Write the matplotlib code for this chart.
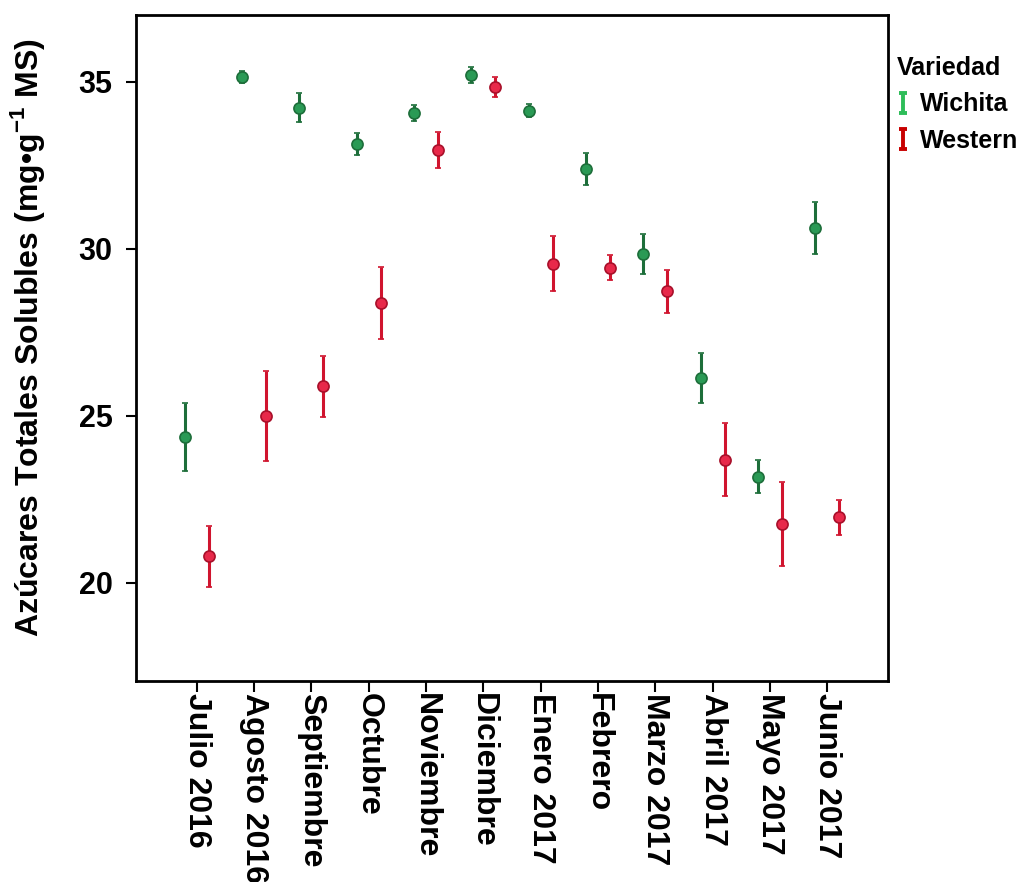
import matplotlib
matplotlib.use("Agg")
import matplotlib.pyplot as plt
from matplotlib.lines import Line2D
from matplotlib.path import Path
import numpy as np

plt.rcParams['font.family'] = ['Liberation Sans', 'DejaVu Sans']
plt.rcParams['font.weight'] = 'bold'
plt.rcParams['mathtext.fontset'] = 'custom'
plt.rcParams['mathtext.rm'] = 'Liberation Sans:bold'
plt.rcParams['mathtext.bf'] = 'Liberation Sans:bold'

# Meses del muestreo
meses = ["Julio 2016", "Agosto 2016", "Septiembre", "Octubre", "Noviembre",
         "Diciembre", "Enero 2017", "Febrero", "Marzo 2017", "Abril 2017",
         "Mayo 2017", "Junio 2017"]

# Azúcares totales solubles (media y error)
wichita = [24.37, 35.15, 34.22, 33.14, 34.07, 35.20, 34.13, 32.40, 29.83, 26.13, 23.17, 30.63]
wichita_err = [1.02, 0.18, 0.43, 0.34, 0.24, 0.24, 0.20, 0.48, 0.60, 0.74, 0.50, 0.78]
western = [20.78, 25.00, 25.88, 28.38, 32.96, 34.85, 29.55, 29.43, 28.72, 23.68, 21.75, 21.95]
western_err = [0.90, 1.35, 0.92, 1.08, 0.55, 0.30, 0.83, 0.38, 0.65, 1.10, 1.26, 0.53]

x = np.arange(len(meses))
dx = 0.21

fig = plt.figure(figsize=(10.26, 8.82), dpi=100)
ax = fig.add_axes([0.1326, 0.2279, 0.7329, 0.7551])

ax.errorbar(x - dx, wichita, yerr=wichita_err, fmt='o', color='#1d6e3a',
            ecolor='#1d6e3a', elinewidth=2.2, capsize=2.5, capthick=2.2,
            markersize=8, markerfacecolor='#2a9a55', markeredgecolor='#1d6e3a',
            markeredgewidth=1.2, zorder=3)
ax.errorbar(x + dx, western, yerr=western_err, fmt='o', color='#d0142e',
            ecolor='#d0142e', elinewidth=2.2, capsize=2.5, capthick=2.2,
            markersize=8, markerfacecolor='#e8294a', markeredgecolor='#a8102a',
            markeredgewidth=1.2, zorder=3)

ax.set_xlim(-1.06, 12.06)
ax.set_ylim(17.05, 37.0)
ax.set_yticks([20, 25, 30, 35])
ax.set_xticks(x)
ax.set_xticklabels(meses, rotation=270, ha='center', va='top', fontsize=23, fontweight='bold')
ax.tick_params(axis='y', labelsize=22, length=7, width=1.5, pad=10)
ax.tick_params(axis='x', length=8, width=1.5, pad=1)
for s in ax.spines.values():
    s.set_linewidth(2)
ax.set_ylabel("Azúcares Totales Solubles (mg•g$^{-1}$ MS)", fontsize=23,
              fontweight='bold')
ax.yaxis.set_label_coords(-0.118, 0.515)

# Leyenda con símbolo de barra de error
barra = Path([(-0.45, 1), (0.45, 1), (0, 1), (0, -1), (-0.45, -1), (0.45, -1)],
             [Path.MOVETO, Path.LINETO, Path.MOVETO, Path.LINETO, Path.MOVETO, Path.LINETO])
h1 = Line2D([], [], linestyle='none', marker=barra, markersize=14,
            markeredgecolor='#2ebd59', markerfacecolor='none', markeredgewidth=2.8)
h2 = Line2D([], [], linestyle='none', marker=barra, markersize=14,
            markeredgecolor='#c80000', markerfacecolor='none', markeredgewidth=2.8)
leg = fig.legend([h1, h2], ["Wichita", "Western"], title="Variedad",
                 loc='upper left', bbox_to_anchor=(0.864, 0.948), frameon=False,
                 fontsize=18, title_fontproperties={'weight': 'bold', 'size': 18},
                 handlelength=0.5, handletextpad=0.45, labelspacing=0.5,
                 borderaxespad=0, alignment='left')

fig.savefig("out.png", dpi=100)
